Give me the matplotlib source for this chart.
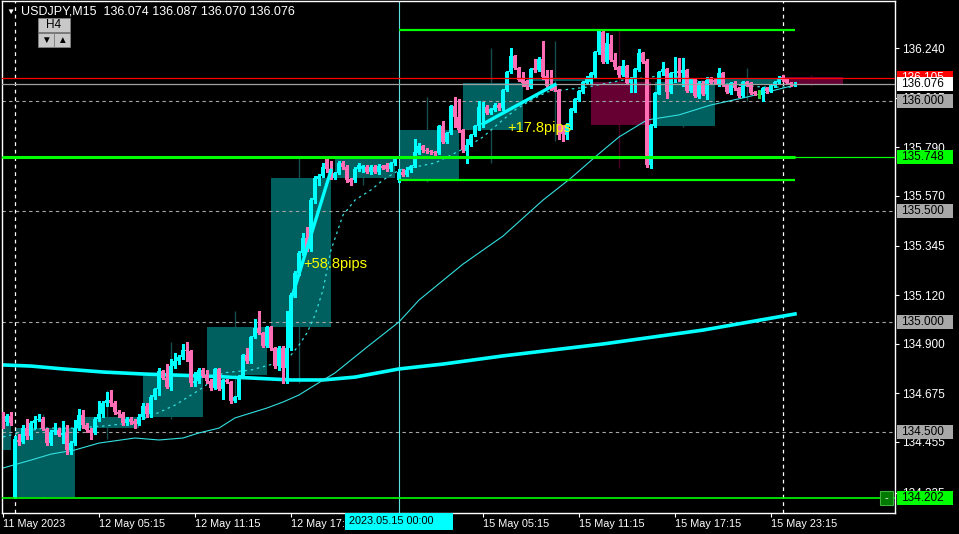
import matplotlib
matplotlib.use("Agg")
import matplotlib.pyplot as plt
from matplotlib.patches import Rectangle
from matplotlib.transforms import blended_transform_factory

plt.rcParams['font.family'] = ['Liberation Sans', 'DejaVu Sans']

header = "USDJPY,M15  136.074 136.087 136.070 136.076"
cursor_time = "2023.05.15 00:00"

# M15 bars, bar 0 = 11 May 23:15
opens = [
    134.568, 134.546, 134.573, 134.205, 134.464, 134.455, 134.520, 134.480, 134.540, 134.555,
    134.560, 134.515, 134.450, 134.500, 134.510, 134.485, 134.495, 134.420, 134.450, 134.520,
    134.575, 134.530, 134.510, 134.495, 134.560, 134.580, 134.630, 134.645, 134.630, 134.590,
    134.580, 134.540, 134.560, 134.550, 134.535, 134.570, 134.620, 134.580, 134.660, 134.695,
    134.775, 134.745, 134.705, 134.800, 134.820, 134.840, 134.870, 134.865, 134.720, 134.730,
    134.780, 134.760, 134.730, 134.700, 134.785, 134.695, 134.735, 134.725, 134.640, 134.660,
    134.755, 134.850, 134.820, 134.930, 134.970, 134.950, 134.890, 134.975, 134.880, 134.800,
    134.880, 134.790, 134.880, 135.120, 135.220, 135.310, 135.380, 135.330, 135.550, 135.645,
    135.660, 135.735, 135.690, 135.650, 135.675, 135.720, 135.700, 135.645, 135.640, 135.690,
    135.690, 135.700, 135.680, 135.700, 135.680, 135.705, 135.710, 135.690, 135.720, 135.642,
    135.678, 135.665, 135.687, 135.705, 135.764, 135.796, 135.780, 135.775, 135.770, 135.764,
    135.887, 135.814, 135.855, 135.977, 135.928, 135.869, 135.773, 135.800, 135.846, 135.887,
    135.971, 135.973, 135.946, 135.960, 135.982, 135.968, 136.050, 136.131, 136.204, 136.150,
    136.100, 136.090, 136.063, 136.150, 136.140, 136.190, 136.113, 136.070, 136.063, 136.050,
    135.885, 135.846, 135.882, 135.955, 136.005, 136.041, 136.082, 136.085, 136.118, 136.222,
    136.313, 136.177, 136.258, 136.186, 136.154, 136.118, 136.158, 136.082, 136.104, 136.140,
    136.217, 136.181, 135.710, 135.887, 136.032, 136.131, 136.145, 136.041, 136.127, 136.136,
    136.127, 136.140, 136.045, 136.100, 136.018, 136.082, 136.032, 136.100, 136.095, 136.073,
    136.127, 136.073, 136.036, 136.082, 136.059, 136.023, 136.086, 136.082, 136.041, 136.028,
    136.027, 136.059, 136.045, 136.068, 136.086, 136.109, 136.100, 136.082, 136.074,
]
highs = [
    134.590, 134.580, 134.590, 134.480, 134.490, 134.530, 134.560, 134.550, 134.573, 134.580,
    134.570, 134.520, 134.510, 134.540, 134.520, 134.550, 134.530, 134.460, 134.555, 134.605,
    134.600, 134.540, 134.520, 134.570, 134.640, 134.640, 134.680, 134.690, 134.640, 134.600,
    134.590, 134.570, 134.570, 134.560, 134.580, 134.630, 134.630, 134.670, 134.700, 134.790,
    134.780, 134.810, 134.830, 134.860, 134.850, 134.900, 134.910, 134.870, 134.770, 134.790,
    134.790, 134.780, 134.740, 134.790, 134.790, 134.740, 134.740, 134.730, 134.665, 134.760,
    134.855, 134.880, 134.935, 135.010, 135.050, 134.955, 134.980, 134.980, 134.885, 134.890,
    134.890, 135.050, 135.130, 135.230, 135.320, 135.400, 135.430, 135.560, 135.660, 135.670,
    135.720, 135.750, 135.730, 135.680, 135.730, 135.730, 135.710, 135.650, 135.700, 135.720,
    135.710, 135.710, 135.710, 135.710, 135.715, 135.710, 135.720, 135.725, 135.745, 135.690,
    135.690, 135.700, 135.710, 135.830, 135.810, 135.800, 135.785, 135.780, 135.775, 135.890,
    135.910, 135.860, 135.980, 136.020, 136.010, 135.875, 135.830, 135.850, 135.890, 136.000,
    135.995, 135.980, 135.970, 135.990, 135.990, 136.055, 136.135, 136.240, 136.210, 136.155,
    136.130, 136.095, 136.150, 136.190, 136.200, 136.270, 136.140, 136.140, 136.070, 136.055,
    135.890, 135.900, 135.970, 136.015, 136.050, 136.090, 136.115, 136.130, 136.225, 136.322,
    136.320, 136.310, 136.300, 136.217, 136.160, 136.186, 136.165, 136.110, 136.150, 136.235,
    136.220, 136.190, 135.895, 136.040, 136.135, 136.177, 136.150, 136.130, 136.200, 136.195,
    136.195, 136.145, 136.105, 136.105, 136.090, 136.090, 136.110, 136.110, 136.100, 136.150,
    136.130, 136.078, 136.086, 136.090, 136.064, 136.090, 136.090, 136.086, 136.045, 136.050,
    136.064, 136.064, 136.078, 136.090, 136.113, 136.120, 136.104, 136.086, 136.087,
]
lows = [
    134.520, 134.530, 134.530, 134.202, 134.440, 134.450, 134.470, 134.470, 134.520, 134.550,
    134.510, 134.440, 134.440, 134.490, 134.480, 134.450, 134.400, 134.400, 134.440, 134.510,
    134.520, 134.500, 134.470, 134.490, 134.550, 134.570, 134.620, 134.620, 134.580, 134.570,
    134.530, 134.530, 134.535, 134.520, 134.530, 134.560, 134.570, 134.570, 134.650, 134.670,
    134.740, 134.700, 134.690, 134.790, 134.810, 134.830, 134.820, 134.710, 134.710, 134.720,
    134.750, 134.720, 134.690, 134.695, 134.690, 134.650, 134.720, 134.630, 134.635, 134.650,
    134.750, 134.815, 134.815, 134.925, 134.945, 134.885, 134.885, 134.870, 134.790, 134.780,
    134.720, 134.720, 134.870, 135.110, 135.210, 135.300, 135.320, 135.320, 135.540, 135.620,
    135.655, 135.680, 135.645, 135.645, 135.670, 135.690, 135.635, 135.620, 135.635, 135.685,
    135.680, 135.675, 135.670, 135.675, 135.670, 135.690, 135.685, 135.685, 135.710, 135.635,
    135.660, 135.660, 135.680, 135.700, 135.760, 135.770, 135.765, 135.760, 135.755, 135.760,
    135.810, 135.810, 135.850, 135.880, 135.860, 135.770, 135.720, 135.795, 135.840, 135.870,
    135.880, 135.940, 135.940, 135.955, 135.960, 135.960, 136.045, 136.125, 136.145, 136.090,
    136.070, 136.055, 136.060, 136.130, 136.135, 136.100, 136.065, 136.050, 136.045, 135.830,
    135.820, 135.830, 135.875, 135.950, 136.000, 136.035, 136.078, 136.080, 136.110, 136.215,
    136.170, 136.170, 136.180, 136.143, 136.110, 136.115, 136.077, 136.041, 136.040, 136.135,
    136.170, 135.700, 135.695, 135.880, 136.030, 136.120, 136.013, 136.035, 136.085, 136.090,
    136.070, 136.040, 136.040, 136.018, 136.013, 136.027, 136.010, 136.075, 136.080, 136.068,
    136.068, 136.036, 136.032, 136.050, 136.018, 136.018, 136.068, 136.032, 136.027, 136.013,
    136.000, 136.035, 136.040, 136.064, 136.082, 136.090, 136.077, 136.070, 136.070,
]
closes = [
    134.541, 134.573, 134.541, 134.470, 134.455, 134.520, 134.480, 134.540, 134.555, 134.560,
    134.515, 134.450, 134.500, 134.510, 134.485, 134.495, 134.420, 134.450, 134.520, 134.575,
    134.530, 134.510, 134.495, 134.560, 134.580, 134.630, 134.645, 134.630, 134.590, 134.580,
    134.540, 134.560, 134.545, 134.535, 134.570, 134.620, 134.580, 134.660, 134.695, 134.775,
    134.745, 134.705, 134.800, 134.820, 134.840, 134.870, 134.865, 134.720, 134.730, 134.780,
    134.755, 134.730, 134.700, 134.785, 134.695, 134.735, 134.725, 134.640, 134.660, 134.755,
    134.850, 134.820, 134.930, 134.970, 134.950, 134.890, 134.975, 134.880, 134.800, 134.880,
    134.790, 134.880, 135.120, 135.220, 135.310, 135.380, 135.330, 135.550, 135.650, 135.660,
    135.700, 135.690, 135.650, 135.675, 135.720, 135.700, 135.640, 135.635, 135.690, 135.710,
    135.705, 135.680, 135.700, 135.680, 135.705, 135.695, 135.690, 135.720, 135.740, 135.678,
    135.665, 135.687, 135.705, 135.769, 135.796, 135.778, 135.773, 135.769, 135.764, 135.887,
    135.814, 135.855, 135.977, 135.928, 135.869, 135.778, 135.800, 135.846, 135.887, 135.973,
    135.975, 135.946, 135.965, 135.982, 135.968, 136.050, 136.131, 136.204, 136.150, 136.095,
    136.082, 136.063, 136.145, 136.140, 136.190, 136.110, 136.070, 136.058, 136.050, 135.846,
    135.850, 135.890, 135.964, 136.009, 136.045, 136.086, 136.100, 136.127, 136.222, 136.317,
    136.177, 136.263, 136.186, 136.154, 136.118, 136.158, 136.082, 136.104, 136.145, 136.217,
    136.177, 135.710, 135.891, 136.036, 136.131, 136.145, 136.041, 136.127, 136.131, 136.127,
    136.140, 136.045, 136.100, 136.023, 136.082, 136.032, 136.095, 136.082, 136.085, 136.127,
    136.073, 136.041, 136.082, 136.059, 136.023, 136.086, 136.073, 136.036, 136.032, 136.028,
    136.059, 136.045, 136.073, 136.086, 136.104, 136.095, 136.082, 136.074, 136.076,
]

# H4 overlay: first M15 bar of each 4h block
h4_starts = [-13, 3, 19, 35, 51, 67, 83, 99, 115, 131, 147, 163, 179, 195]
h4_first_open = 134.417

# moving averages, read at a few bars
slow_ma_bars = [0, 7, 15, 25, 35, 50, 62, 72, 80, 88, 99, 110, 125, 150, 175, 198]
slow_ma = [134.804, 134.799, 134.786, 134.772, 134.763, 134.754, 134.745, 134.736,
           134.736, 134.749, 134.786, 134.808, 134.845, 134.899, 134.962, 135.035]
mid_ma_bars = [0, 7, 12, 18, 24, 33, 39, 45, 49, 54, 58, 66, 70, 74, 78, 83, 91, 99,
               104, 115, 125, 135, 142, 148, 154, 161, 169, 177, 186, 194, 198]
mid_ma = [134.337, 134.373, 134.400, 134.419, 134.450, 134.473, 134.464, 134.473,
          134.496, 134.518, 134.564, 134.609, 134.636, 134.668, 134.713, 134.768,
          134.885, 134.999, 135.098, 135.261, 135.388, 135.551, 135.651, 135.746,
          135.837, 135.914, 135.937, 135.982, 136.018, 136.054, 136.072]
fast_ma_bars = [0, 5, 10, 18, 25, 32, 37, 43, 49, 55, 62, 71, 74, 76, 78, 80, 82, 85,
                88, 92, 95, 99, 108, 112, 116, 120, 124, 128, 132, 136, 140, 146, 150,
                155, 160, 166, 172, 178, 184, 190, 198]
fast_ma = [134.478, 134.500, 134.518, 134.518, 134.527, 134.541, 134.573, 134.622,
           134.690, 134.768, 134.781, 134.826, 134.894, 134.949, 135.030, 135.144,
           135.325, 135.483, 135.551, 135.597, 135.642, 135.687, 135.719, 135.755,
           135.792, 135.837, 135.900, 135.959, 136.004, 136.041, 136.050, 136.063,
           136.077, 136.095, 136.104, 136.118, 136.095, 136.082, 136.072, 136.063,
           136.063]

# measured moves: start bar/price, end bar/price, label bar/price, text
move_x0 = [72, 120]
move_y0 = [135.098, 135.896]
move_x1 = [82, 138]
move_y1 = [135.686, 136.074]
move_text_x = [75, 126]
move_text_y = [135.261, 135.878]
move_text = ["+58.8pips", "+17.8pips"]

range_high = 136.322
range_low = 135.640
support = 135.748
week_low = 134.202
ask_price = 136.105
bid_price = 136.076
round_levels = [136.000, 135.500, 135.000, 134.500]

price_ticks = [136.240, 136.015, 135.790, 135.570, 135.345, 135.120, 134.900, 134.675,
               134.455, 134.225]
x_ticks = [0, 24, 48, 72, 96, 120, 144, 168, 192]
x_labels = ["11 May 2023", "12 May 05:15", "12 May 11:15", "12 May 17:15", "12 May 23:15",
            "15 May 05:15", "15 May 11:15", "15 May 17:15", "15 May 23:15"]
day_breaks = [3, 195]
cursor_bar = 99

BULL = '#00ffff'
BEAR = '#ff6eb4'
W, H = 959, 534

fig = plt.figure(figsize=(W / 100, H / 100), dpi=100, facecolor='black')
ax = fig.add_axes([2 / W, (H - 513) / H, 893 / W, 512 / H])
ax.set_facecolor('black')
ax.set_xlim(-0.25, 223.0)
ax.set_ylim(134.1332, 136.4531)
n = len(closes)
last = n - 1

# H4 boxes behind everything
for s in h4_starts:
    idx = range(max(s, 0), min(s + 16, n))
    o = opens[s] if s >= 0 else h4_first_open
    c = closes[idx[-1]]
    hi = max(highs[j] for j in idx)
    lo = min(lows[j] for j in idx)
    up = c >= o
    ax.vlines(s + 7, lo, hi, color='#174c4c' if up else '#4a0026', lw=1, zorder=0.5)
    ax.add_patch(Rectangle((s, min(o, c)), 15, abs(c - o),
                           facecolor='#005f5f' if up else '#660033', lw=0, zorder=0.6))

for lv in round_levels:
    ax.axhline(lv, color='#a8a8a8', lw=0.8, ls=(0, (3, 3)), zorder=1)
for d in day_breaks:
    ax.axvline(d, color='white', lw=0.9, ls=(0, (3, 3)), zorder=1)
ax.axvline(cursor_bar, color='#5fdede', lw=0.8, zorder=1)

ax.plot(slow_ma_bars, slow_ma, color=BULL, lw=2.6, zorder=2)
ax.plot(mid_ma_bars, mid_ma, color='#33e0e0', lw=0.8, zorder=2)
ax.plot(fast_ma_bars, fast_ma, color='#33e0e0', lw=0.9, ls=(0, (2, 3)), zorder=2)

# candles
for i in range(n):
    o, h, l, c = opens[i], highs[i], lows[i], closes[i]
    if abs(c - o) < 0.0005:
        col = '#33cc33'
    else:
        col = BULL if c > o else BEAR
    ax.vlines(i, l, h, color=col, lw=1.0, zorder=3, antialiased=False)
    body = max(abs(c - o), 0.004)
    ax.bar(i, body, bottom=(o + c) / 2 - body / 2, width=0.8, color=col, lw=0,
           zorder=3, antialiased=False)

# horizontal levels
ax.axhline(ask_price, color='#ff0000', lw=0.9, zorder=4)
ax.axhline(bid_price, color='#a0a0a0', lw=0.9, zorder=4)
ax.axhline(support, color='#00ff00', lw=0.9, zorder=4)
ax.axhline(week_low, color='#00ff00', lw=1.2, zorder=4)
ax.hlines(support, -0.25, last, color='#00ff00', lw=2.2, zorder=4)
ax.hlines([range_high, range_low], cursor_bar, last, color='#00ff00', lw=1.6, zorder=4)

for k in range(len(move_text)):
    ax.plot([move_x0[k], move_x1[k]], [move_y0[k], move_y1[k]], color=BULL, lw=2.4, zorder=5)
    ax.text(move_text_x[k], move_text_y[k], move_text[k], color='#ffff00', fontsize=10.5,
            va='center', ha='left', zorder=6)

for sp in ax.spines.values():
    sp.set_color('white')
    sp.set_linewidth(1)

ax.yaxis.tick_right()
ax.set_yticks(price_ticks)
ax.set_yticklabels([f"{p:.3f}" for p in price_ticks])
ax.tick_params(axis='y', colors='white', length=3, width=0.8, labelsize=8.5, pad=2)
ax.set_xticks(x_ticks)
ax.set_xticklabels(x_labels)
for lab in ax.get_xticklabels():
    lab.set_ha('left')
ax.tick_params(axis='x', colors='white', length=3, width=0.8, labelsize=7.8, pad=1.5)

# price boxes on the right scale
tr = blended_transform_factory(fig.transFigure, ax.transData)
box_h = 14 / 220.7
boxes = [(ask_price, '#ff0000', 'white'), (bid_price, 'white', 'black')]
boxes += [(lv, '#a8a8a8', 'black') for lv in round_levels]
boxes += [(support, '#00ff00', 'black'), (week_low, '#00ff00', 'black')]
for price, face, tc in boxes:
    ax.add_patch(Rectangle((897 / W, price - box_h / 2), 56 / W, box_h, transform=tr,
                           facecolor=face, lw=0, clip_on=False, zorder=7))
    ax.text(901 / W, price, f"{price:.3f}", transform=tr, color=tc, fontsize=8.5,
            va='center', ha='left', clip_on=False, zorder=8)
ax.add_patch(Rectangle((880 / W, week_low - box_h / 2), 13 / W, box_h, transform=tr,
                       facecolor='#007a00', edgecolor='#40b040', lw=0.8, clip_on=False, zorder=7))
ax.text(886.5 / W, week_low, "-", transform=tr, color='white', fontsize=8, va='center',
        ha='center', clip_on=False, zorder=8)

# header and buttons
fig.text(10 / W, 1 - 12 / H, "▼", color='white', fontsize=6, ha='center', va='center')
fig.text(21 / W, 1 - 12 / H, header, color='white', fontsize=9, ha='left', va='center')
fig.add_artist(Rectangle((38 / W, 1 - 32 / H), 32 / W, 14 / H, transform=fig.transFigure,
                         facecolor='#c8c8c8', edgecolor='#808080', lw=0.6))
fig.text(54 / W, 1 - 25 / H, "H4", color='black', fontsize=8.5, ha='center', va='center')
for bx, sym in [(38, "▼"), (54, "▲")]:
    fig.add_artist(Rectangle((bx / W, 1 - 47 / H), 16 / W, 14 / H, transform=fig.transFigure,
                             facecolor='#c8c8c8', edgecolor='#808080', lw=0.6))
    fig.text((bx + 8) / W, 1 - 40 / H, sym, color='black', fontsize=7, ha='center', va='center')

fig.add_artist(Rectangle((345 / W, 1 - 530 / H), 108 / W, 17 / H, transform=fig.transFigure,
                         facecolor='#00ffff', lw=0, zorder=10))
fig.text(349 / W, 1 - 521 / H, cursor_time, color='black', fontsize=7.8, ha='left',
         va='center', zorder=11)

fig.savefig("out.png", dpi=100, facecolor='black')
